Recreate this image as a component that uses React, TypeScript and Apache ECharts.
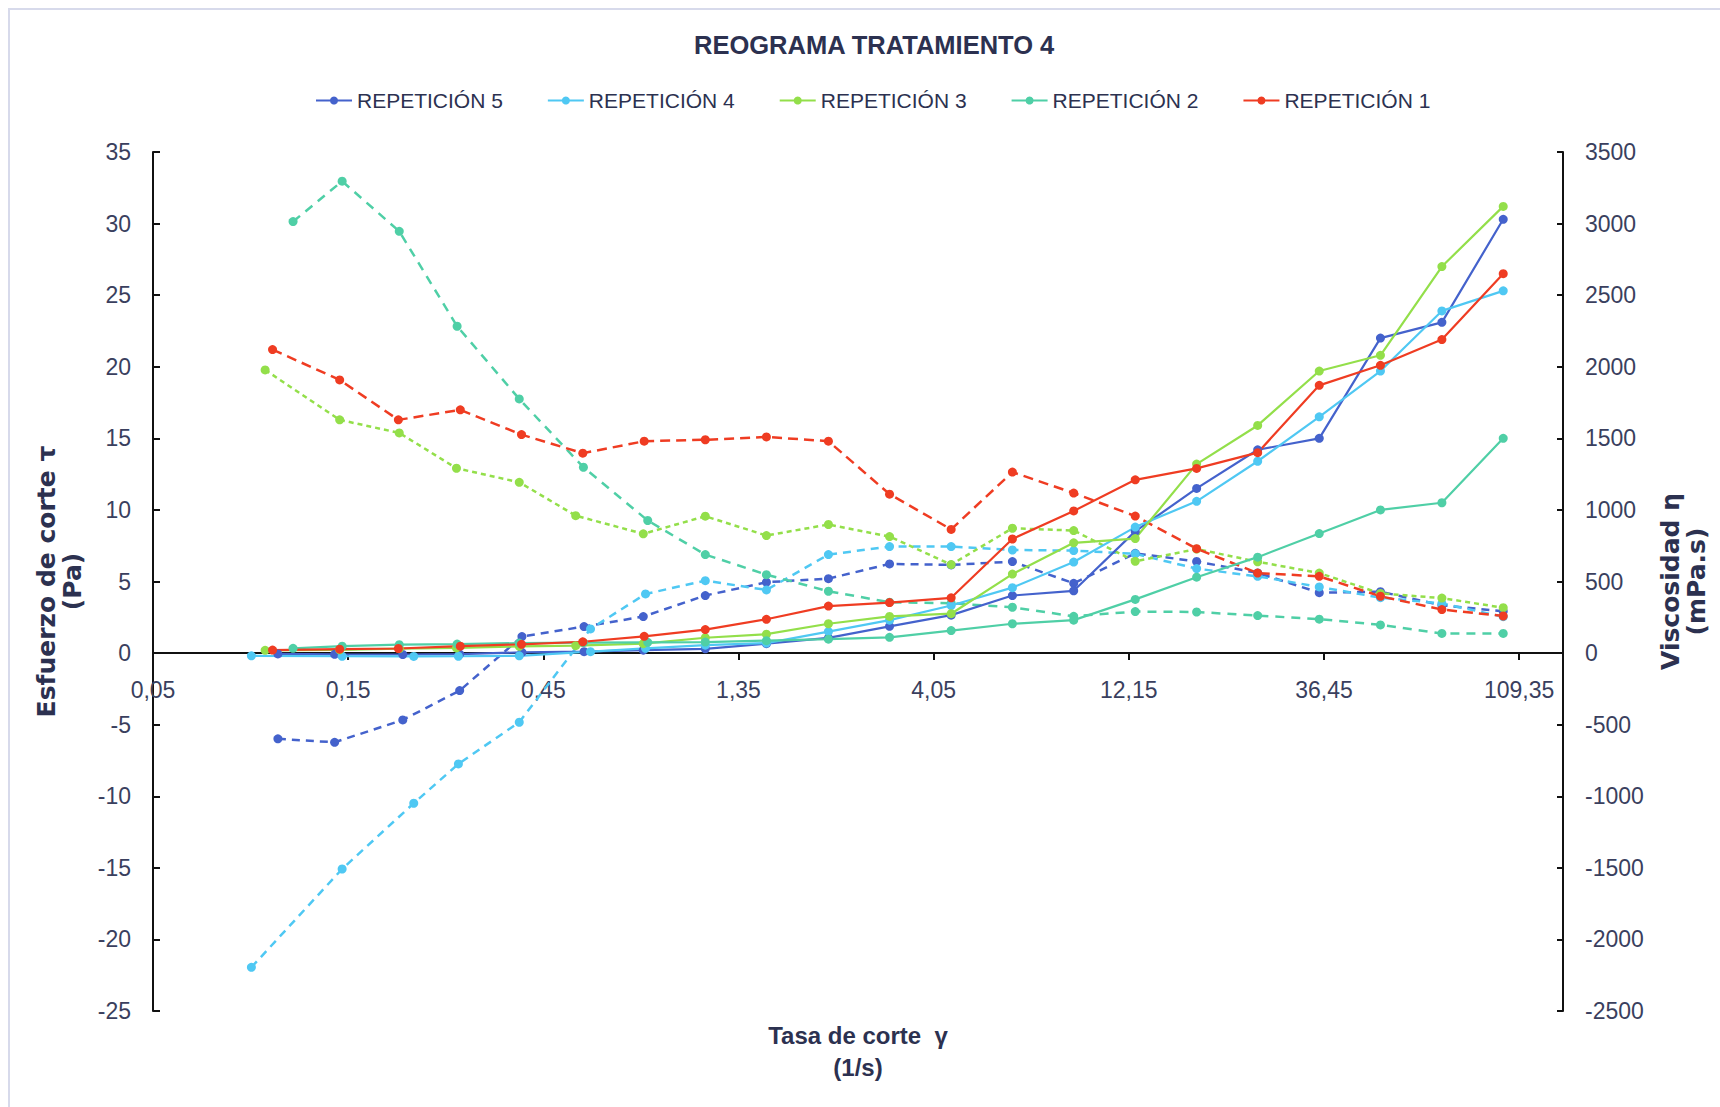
import React, { useEffect, useRef } from "react";
import * as echarts from "echarts";

// ---------- Data ----------
const X_MIN = 0.05;
const X_MAX = 140;
const X_TICKS = [0.05, 0.15, 0.45, 1.35, 4.05, 12.15, 36.45, 109.35];
const X_TICK_LABELS = ["0,05", "0,15", "0,45", "1,35", "4,05", "12,15", "36,45", "109,35"];

const Y_LEFT_MIN = -25;
const Y_LEFT_MAX = 35;
const Y_RIGHT_MIN = -2500;
const Y_RIGHT_MAX = 3500;

// Shear rate (1/s) for each repetition
const X1 = [0.098, 0.143, 0.199, 0.282, 0.398, 0.562, 0.794, 1.12, 1.58, 2.24, 3.16, 4.47, 6.31, 8.91, 12.6, 17.8, 25.1, 35.5, 50.1, 70.8, 100];
const X2 = [0.11, 0.145, 0.2, 0.277, 0.393, 0.564, 0.81, 1.12, 1.58, 2.24, 3.16, 4.47, 6.31, 8.91, 12.6, 17.8, 25.1, 35.5, 50.1, 70.8, 100];
const X3 = [0.094, 0.143, 0.2, 0.276, 0.393, 0.54, 0.79, 1.12, 1.58, 2.24, 3.16, 4.47, 6.31, 8.91, 12.6, 17.8, 25.1, 35.5, 50.1, 70.8, 100];
const X4 = [0.087, 0.145, 0.217, 0.279, 0.393, 0.587, 0.8, 1.12, 1.58, 2.24, 3.16, 4.47, 6.31, 8.91, 12.6, 17.8, 25.1, 35.5, 50.1, 70.8, 100];
const X5 = [0.101, 0.139, 0.204, 0.281, 0.399, 0.566, 0.79, 1.12, 1.58, 2.24, 3.16, 4.47, 6.31, 8.91, 12.6, 17.8, 25.1, 35.5, 50.1, 70.8, 100];

// Shear stress (Pa) — left axis
const STRESS1 = [0.21, 0.27, 0.32, 0.48, 0.61, 0.79, 1.17, 1.64, 2.36, 3.28, 3.53, 3.86, 7.97, 9.93, 12.1, 12.9, 14.0, 18.7, 20.1, 21.9, 26.5];
const STRESS2 = [0.33, 0.48, 0.59, 0.63, 0.7, 0.73, 0.75, 0.77, 0.87, 0.97, 1.1, 1.57, 2.05, 2.3, 3.75, 5.3, 6.7, 8.35, 10.0, 10.5, 15.0];
const STRESS3 = [0.19, 0.23, 0.31, 0.36, 0.47, 0.52, 0.66, 1.07, 1.32, 2.05, 2.56, 2.75, 5.52, 7.7, 8.0, 13.2, 15.9, 19.7, 20.8, 27.0, 31.2];
const STRESS4 = [-0.19, -0.22, -0.23, -0.22, -0.19, 0.1, 0.33, 0.55, 0.7, 1.5, 2.3, 3.32, 4.57, 6.36, 8.8, 10.6, 13.4, 16.5, 19.7, 23.9, 25.3];
const STRESS5 = [-0.06, -0.09, -0.1, -0.07, 0.05, 0.1, 0.2, 0.3, 0.66, 1.06, 1.87, 2.65, 4.02, 4.35, 8.5, 11.5, 14.2, 15.0, 22.0, 23.1, 30.3];

// Viscosity (mPa.s) — right axis
const VISC1 = [2120, 1908, 1629, 1699, 1526, 1396, 1480, 1490, 1510, 1480, 1110, 864, 1264, 1118, 957, 729, 559, 536, 397, 304, 259];
const VISC2 = [3014, 3296, 2946, 2283, 1775, 1298, 926, 688, 548, 432, 355, 348, 320, 257, 290, 287, 262, 237, 197, 137, 137];
const VISC3 = [1978, 1629, 1538, 1291, 1193, 960, 833, 956, 821, 898, 814, 618, 872, 856, 641, 727, 638, 559, 417, 384, 317];
const VISC4 = [-2195, -1508, -1049, -774, -483, 169, 413, 506, 441, 688, 744, 744, 720, 716, 693, 590, 536, 462, 387, 347, 254];
const VISC5 = [-599, -623, -467, -262, 115, 185, 255, 402, 495, 520, 623, 616, 639, 487, 697, 640, 560, 422, 429, 334, 292];

const NAMES = ["REPETICIÓN 5", "REPETICIÓN 4", "REPETICIÓN 3", "REPETICIÓN 2", "REPETICIÓN 1"];
const COLORS = ["#4462cc", "#4fc8f3", "#93df4a", "#4fcfa6", "#ef3c22"];

const TEXT = "#2c3150";
const AXIS = "#111111";

const W = 1720;
const H = 1107;
const GRID = { left: 153, right: 157, top: 152, bottom: 96 };

export default function App() {
  const ref = useRef<HTMLDivElement>(null);

  useEffect(() => {
    if (!ref.current) return;
    const chart = echarts.init(ref.current, undefined, { renderer: "svg" });

    const reps = [
      { name: NAMES[0], color: COLORS[0], x: X5, s: STRESS5, v: VISC5, dash: [8, 6] },
      { name: NAMES[1], color: COLORS[1], x: X4, s: STRESS4, v: VISC4, dash: [8, 6] },
      { name: NAMES[2], color: COLORS[2], x: X3, s: STRESS3, v: VISC3, dash: [5, 4] },
      { name: NAMES[3], color: COLORS[3], x: X2, s: STRESS2, v: VISC2, dash: [9, 7] },
      { name: NAMES[4], color: COLORS[4], x: X1, s: STRESS1, v: VISC1, dash: [10, 6] },
    ];

    const solid = reps.map((r) => ({
      type: "line",
      name: r.name,
      yAxisIndex: 0,
      data: r.x.map((xv, i) => [xv, r.s[i]]),
      symbol: "circle",
      symbolSize: 9,
      showAllSymbol: true,
      lineStyle: { color: r.color, width: 2.2 },
      itemStyle: { color: r.color },
      z: 3,
    }));
    const dashed = reps.map((r) => ({
      type: "line",
      name: r.name,
      yAxisIndex: 1,
      data: r.x.map((xv, i) => [xv, r.v[i]]),
      symbol: "circle",
      symbolSize: 9,
      showAllSymbol: true,
      lineStyle: { color: r.color, width: 2.5, type: r.dash },
      itemStyle: { color: r.color },
      z: 2,
    }));

    const labelFor = (v: number) => {
      let best = 0;
      let bd = Infinity;
      X_TICKS.forEach((t, i) => {
        const d = Math.abs(Math.log(v) - Math.log(t));
        if (d < bd) {
          bd = d;
          best = i;
        }
      });
      return X_TICK_LABELS[best];
    };

    // x axis crosses the left y axis at 0: shift it up from the grid bottom
    const gridH = H - GRID.top - GRID.bottom;
    const zeroOffset = -(gridH * (0 - Y_LEFT_MIN)) / (Y_LEFT_MAX - Y_LEFT_MIN);

    const tickFont = { fontFamily: "'Liberation Sans', Arial, sans-serif", fontSize: 23, color: "#3a3f5e" };

    chart.setOption({
      animation: false,
      backgroundColor: "#ffffff",
      title: {
        text: "REOGRAMA TRATAMIENTO 4",
        left: 694,
        top: 32,
        padding: 0,
        textStyle: {
          fontFamily: "'Liberation Sans', Arial, sans-serif",
          fontWeight: "bold",
          fontSize: 25.5,
          color: TEXT,
        },
      },
      legend: {
        data: NAMES,
        left: 315,
        top: 90,
        padding: 0,
        itemWidth: 36,
        itemHeight: 10,
        itemGap: 44,
        textStyle: { fontFamily: "'Liberation Sans', Arial, sans-serif", fontSize: 21, color: TEXT },
      },
      graphic: [
        {
          type: "rect",
          silent: true,
          shape: { x: 9, y: 9, width: 2000, height: 2000 },
          style: { fill: "none", stroke: "#d7daeb", lineWidth: 2 },
        },
      ],
      grid: { ...GRID, containLabel: false, outerBoundsMode: "none" },
      xAxis: {
        type: "log",
        logBase: 3,
        min: X_MIN,
        max: X_MAX,
        position: "bottom",
        offset: zeroOffset,
        name: "Tasa de corte  γ\n(1/s)",
        nameLocation: "middle",
        nameGap: 366,
        nameTextStyle: {
          fontFamily: "'Liberation Sans', Arial, sans-serif",
          fontWeight: "bold",
          fontSize: 24,
          lineHeight: 32,
          color: TEXT,
        },
        axisLine: { show: true, onZero: false, lineStyle: { color: AXIS, width: 2 } },
        axisTick: { show: true, inside: false, length: 7, customValues: X_TICKS, lineStyle: { color: AXIS, width: 2 } },
        axisLabel: { show: true, customValues: X_TICKS, formatter: labelFor, margin: 25, ...tickFont },
        splitLine: { show: false },
        minorTick: { show: false },
      },
      yAxis: [
        {
          type: "value",
          position: "left",
          min: Y_LEFT_MIN,
          max: Y_LEFT_MAX,
          interval: 5,
          name: "Esfuerzo de corte τ\n(Pa)",
          nameLocation: "middle",
          nameRotate: 90,
          nameGap: 68,
          nameTextStyle: {
            fontFamily: "'DejaVu Sans', sans-serif",
            fontWeight: "bold",
            fontSize: 25,
            lineHeight: 26,
            color: TEXT,
          },
          axisLine: { show: true, onZero: false, lineStyle: { color: AXIS, width: 2 } },
          axisTick: { show: true, inside: true, length: 7, lineStyle: { color: AXIS, width: 2 } },
          axisLabel: { margin: 22, formatter: (v: number) => String(v), ...tickFont },
          splitLine: { show: false },
        },
        {
          type: "value",
          position: "right",
          min: Y_RIGHT_MIN,
          max: Y_RIGHT_MAX,
          interval: 500,
          name: "Viscosidad η\n(mPa.s)",
          nameLocation: "middle",
          nameRotate: 90,
          nameGap: 94,
          nameTextStyle: {
            fontFamily: "'DejaVu Sans', sans-serif",
            fontWeight: "bold",
            fontSize: 25,
            lineHeight: 26,
            color: TEXT,
          },
          axisLine: { show: true, onZero: false, lineStyle: { color: AXIS, width: 2 } },
          axisTick: { show: true, inside: true, length: 6, lineStyle: { color: AXIS, width: 2 } },
          axisLabel: { margin: 22, formatter: (v: number) => String(v), ...tickFont },
          splitLine: { show: false },
        },
      ],
      series: [...solid, ...dashed],
    });

    return () => chart.dispose();
  }, []);

  return (
    <div style={{ position: "absolute", left: 0, top: 0, width: W, height: H, background: "#fff" }}>
      <div ref={ref} style={{ width: W, height: H }} />
    </div>
  );
}
